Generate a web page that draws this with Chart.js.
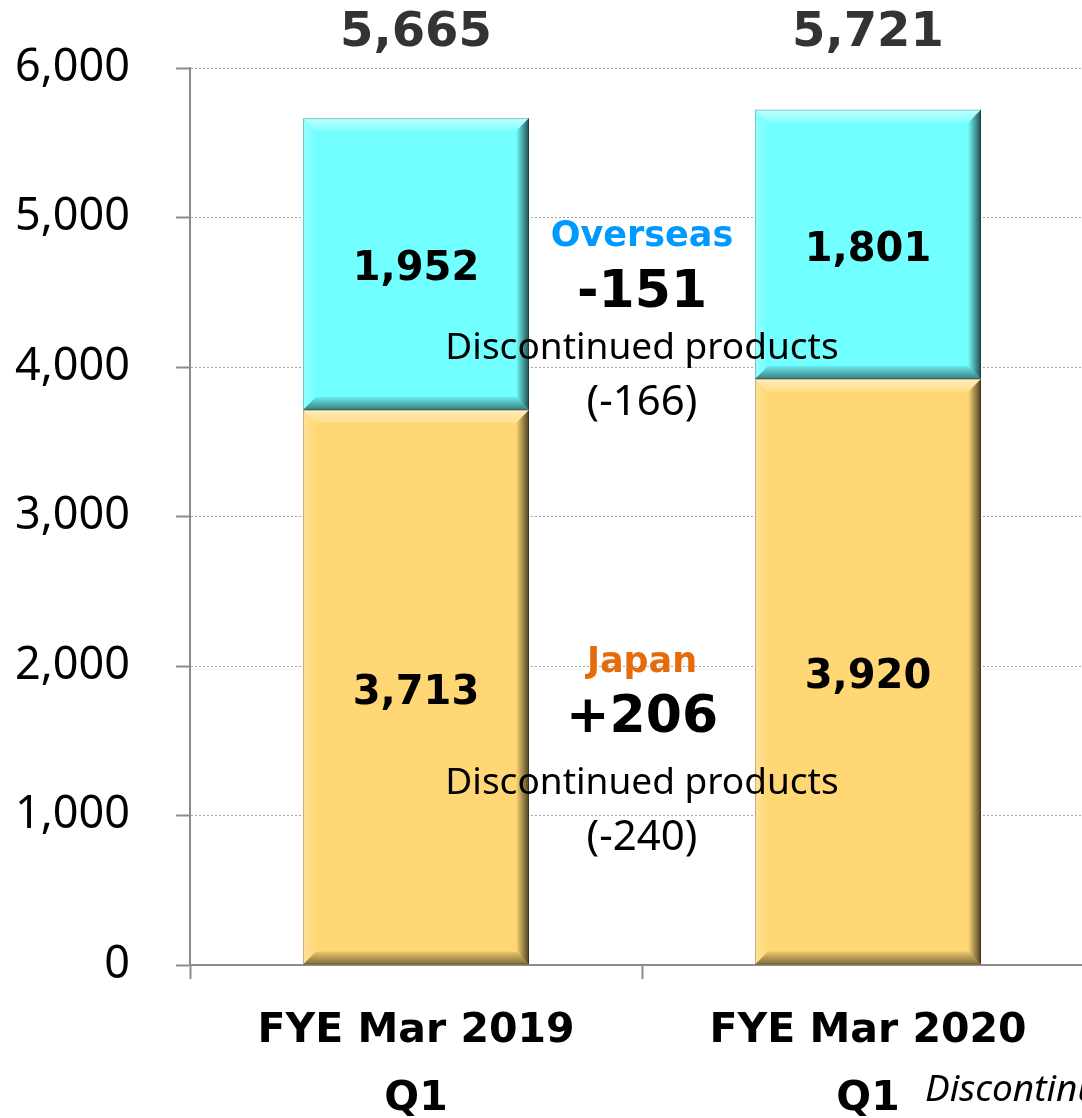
<!DOCTYPE html>
<html>
<head>
<meta charset="utf-8">
<script src="https://cdn.jsdelivr.net/npm/chart.js@4.4.1/dist/chart.umd.min.js"></script>
<style>
html,body{margin:0;padding:0;background:#fff;overflow:hidden;}
#wrap{position:relative;width:1100px;height:1118px;}
</style>
</head>
<body>
<div id="wrap"><canvas id="c"></canvas></div>
<script>
// ---- data ----
const categories = [['FYE Mar 2019', 'Q1'], ['FYE Mar 2020', 'Q1']];
const japanValues = [3713, 3920];
const overseasValues = [1952, 1801];
const totalLabels = ['5,665', '5,721'];
const yTickValues = [0, 1000, 2000, 3000, 4000, 5000, 6000];
const overseasNote = ['Overseas', '-151', 'Discontinued products', '(-166)'];
const japanNote = ['Japan', '+206', 'Discontinued products', '(-240)'];
const footnoteText = 'Discontinued products';

const FONT = '"DejaVu Sans", Verdana, sans-serif';
const NOTE_FONT = '"Noto Sans", "Open Sans", sans-serif';

function poly(ctx, pts, fill) {
  ctx.beginPath();
  ctx.moveTo(pts[0][0], pts[0][1]);
  for (let i = 1; i < pts.length; i++) ctx.lineTo(pts[i][0], pts[i][1]);
  ctx.closePath();
  ctx.fillStyle = fill;
  ctx.fill();
}

const bevelPlugin = {
  id: 'bevel',
  afterDatasetsDraw(chart) {
    const ctx = chart.ctx;
    chart.data.datasets.forEach((ds, di) => {
      const meta = chart.getDatasetMeta(di);
      meta.data.forEach(bar => {
        const p = bar.getProps(['x', 'y', 'base', 'width'], true);
        const L = p.x - p.width / 2, R = p.x + p.width / 2;
        const T = Math.min(p.y, p.base), B = Math.max(p.y, p.base);
        const b = 13;
        ctx.save();
        let g = ctx.createLinearGradient(0, T, 0, T + b);
        g.addColorStop(0, 'rgba(255,255,255,0.55)');
        g.addColorStop(1, 'rgba(255,255,255,0.15)');
        poly(ctx, [[L, T], [R, T], [R - b, T + b], [L + b, T + b]], g);
        g = ctx.createLinearGradient(L, 0, L + b, 0);
        g.addColorStop(0, 'rgba(255,255,255,0.25)');
        g.addColorStop(1, 'rgba(255,255,255,0)');
        poly(ctx, [[L, T], [L + b, T + b], [L + b, B - b], [L, B]], g);
        g = ctx.createLinearGradient(0, B, 0, B - b);
        g.addColorStop(0, 'rgba(0,0,0,0.5)');
        g.addColorStop(1, 'rgba(0,0,0,0.08)');
        poly(ctx, [[L, B], [R, B], [R - b, B - b], [L + b, B - b]], g);
        g = ctx.createLinearGradient(R, 0, R - b, 0);
        g.addColorStop(0, 'rgba(0,0,0,0.7)');
        g.addColorStop(1, 'rgba(0,0,0,0)');
        poly(ctx, [[R, T], [R, B], [R - b, B - b], [R - b, T + b]], g);
        ctx.strokeStyle = 'rgba(0,0,0,0.22)';
        ctx.lineWidth = 1;
        ctx.strokeRect(L + 0.5, T + 0.5, p.width - 1, B - T - 1);
        ctx.restore();
      });
    });
  }
};

const labelPlugin = {
  id: 'labels',
  afterDatasetsDraw(chart) {
    const ctx = chart.ctx;
    const area = chart.chartArea;
    const xs = chart.scales.x;
    ctx.save();
    ctx.textAlign = 'center';
    ctx.textBaseline = 'middle';
    // segment value labels
    chart.data.datasets.forEach((ds, di) => {
      const meta = chart.getDatasetMeta(di);
      meta.data.forEach((bar, i) => {
        const p = bar.getProps(['x', 'y', 'base'], true);
        ctx.font = 'bold 40px ' + FONT;
        ctx.fillStyle = '#000';
        ctx.fillText(ds.data[i].toLocaleString('en-US'), p.x, (p.y + p.base) / 2 + 6);
      });
    });
    // totals above bars
    const top = chart.getDatasetMeta(chart.data.datasets.length - 1);
    top.data.forEach((bar, i) => {
      ctx.font = 'bold 48px ' + FONT;
      ctx.fillStyle = '#333333';
      ctx.fillText(totalLabels[i], bar.x, area.top - 34);
    });
    // notes between bars
    const cx = (xs.getPixelForValue(0) + xs.getPixelForValue(1)) / 2;
    const drawNote = (lines, color, y0, gaps) => {
      const ys = [y0, y0 + gaps[0], y0 + gaps[0] + gaps[1], y0 + gaps[0] + gaps[1] + gaps[2]];
      ctx.font = 'bold 35px ' + FONT; ctx.fillStyle = color;
      ctx.fillText(lines[0], cx, ys[0]);
      ctx.font = 'bold 52px ' + FONT; ctx.fillStyle = '#000';
      ctx.fillText(lines[1], cx, ys[1]);
      ctx.font = '37px ' + NOTE_FONT; ctx.fillStyle = '#000';
      ctx.fillText(lines[2], cx, ys[2]);
      ctx.font = '42px ' + NOTE_FONT;
      ctx.fillText(lines[3], cx, ys[3]);
    };
    drawNote(overseasNote, '#0099FF', area.top + 169, [56, 55, 55]);
    drawNote(japanNote, '#E46C0A', area.top + 595, [55, 65, 55]);
    // cut-off footnote at the bottom right
    ctx.textAlign = 'left';
    ctx.font = 'italic 37px ' + NOTE_FONT;
    ctx.fillStyle = '#000';
    ctx.fillText(footnoteText, 925, 1090);
    ctx.restore();
  }
};

new Chart(document.getElementById('c'), {
  type: 'bar',
  data: {
    labels: categories,
    datasets: [
      { label: 'Japan', data: japanValues, backgroundColor: '#FFD875', borderWidth: 0,
        barPercentage: 0.5, categoryPercentage: 1.0 },
      { label: 'Overseas', data: overseasValues, backgroundColor: '#72FFFF', borderWidth: 0,
        barPercentage: 0.5, categoryPercentage: 1.0 }
    ]
  },
  options: {
    responsive: true,
    maintainAspectRatio: false,
    animation: false,
    layout: { padding: { top: 68, right: 6, left: 0, bottom: 0 } },
    plugins: { legend: { display: false }, tooltip: { enabled: false }, title: { display: false } },
    scales: {
      x: {
        stacked: true,
        grid: { display: true, drawOnChartArea: false, drawTicks: true, tickLength: 14,
                color: '#8c8c8c', tickColor: '#8c8c8c', tickWidth: 2, offset: true },
        border: { display: true, color: '#8c8c8c', width: 2 },
        ticks: { color: '#000', padding: 19, maxRotation: 0, autoSkip: false,
                 font: { family: FONT, size: 41, weight: 'bold', lineHeight: 1.65 } },
        afterFit(scale) { scale.height = 153; }
      },
      y: {
        stacked: true,
        min: 0, max: 6000,
        afterBuildTicks(scale) { scale.ticks = yTickValues.map(v => ({ value: v })); },
        grid: { display: true, drawOnChartArea: true, drawTicks: true, tickLength: 14,
                color: ctx => (ctx.tick && ctx.tick.value === 0) ? 'rgba(0,0,0,0)' : '#a6a6a6',
                lineWidth: 1, tickColor: '#8c8c8c', tickWidth: 2, tickBorderDash: [] },
        border: { display: true, color: '#8c8c8c', width: 2, dash: [2, 2] },
        ticks: { color: '#000', padding: 46,
                 font: { family: NOTE_FONT, size: 45, lineHeight: 0.4 },
                 callback: v => Number(v).toLocaleString('en-US') },
        afterFit(scale) { scale.width = 190; }
      }
    }
  },
  plugins: [bevelPlugin, labelPlugin]
});
</script>
</body>
</html>
